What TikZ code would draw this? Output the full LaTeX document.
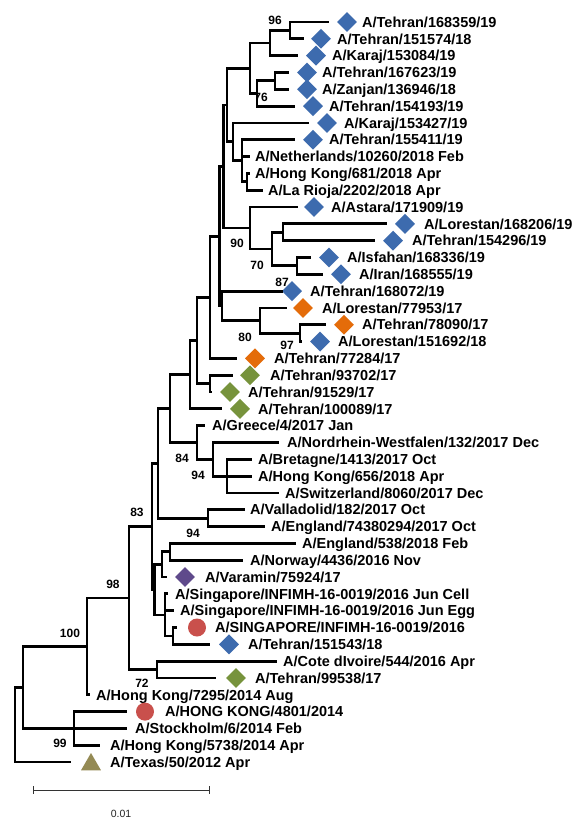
\documentclass[tikz,border=0pt]{standalone}
\usepackage{fontspec}
\setmainfont{Liberation Sans}
\usetikzlibrary{shapes.geometric,calc}
\definecolor{cblue}{HTML}{3D6BAE}
\definecolor{corange}{HTML}{E46C0A}
\definecolor{cgreen}{HTML}{77933C}
\definecolor{cpurple}{HTML}{5F4A8B}
\definecolor{cred}{HTML}{C9504C}
\definecolor{colive}{HTML}{948A54}
\newcommand\leaf[4]{%
  \coordinate (L#1) at (#2,{22+(#1-1)*16.82});
  \node[lab] (T#1) at (#3,{22+(#1-1)*16.82}) {#4};}
\newcommand\mk[3]{\node[#2] (M#1) at (#3,{22+(#1-1)*16.82}) {};}
\newcommand\inode[4]{%
  \path let \p1=($(#3)!0.5!(#4)$) in (#2pt,\y1) coordinate (#1);}
\begin{document}
\begin{tikzpicture}[x=1pt,y=-1pt,
  br/.style={line width=2.8pt, line join=miter},
  lab/.style={anchor=west, inner sep=0pt, font=\fontsize{14.5}{15}\selectfont\bfseries, text height=10.4pt, text depth=0pt},
  bs/.style={inner sep=0pt, font=\fontsize{12}{12}\selectfont\bfseries, text height=8.6pt, text depth=0pt},
  bd/.style={diamond, minimum size=20pt, inner sep=0pt, fill=cblue},
  od/.style={diamond, minimum size=20pt, inner sep=0pt, fill=corange},
  gd/.style={diamond, minimum size=20pt, inner sep=0pt, fill=cgreen},
  pd/.style={diamond, minimum size=20pt, inner sep=0pt, fill=cpurple},
  rc/.style={circle, minimum size=18pt, inner sep=0pt, fill=cred},
  tri/.style={regular polygon, regular polygon sides=3, minimum size=23pt, inner sep=0pt, fill=colive},
  sb/.style={line width=0.9pt, draw=black!80}]
\fill[white] (0,0) rectangle (573,819);
\useasboundingbox (0,0) rectangle (573,819);
% leaves
\leaf{1}{329}{362}{A/Tehran/168359/19} \mk{1}{bd}{347}
\leaf{2}{304}{337}{A/Tehran/151574/18} \mk{2}{bd}{321}
\leaf{3}{298}{332}{A/Karaj/153084/19} \mk{3}{bd}{316}
\leaf{4}{289}{322}{A/Tehran/167623/19} \mk{4}{bd}{307}
\leaf{5}{289}{322}{A/Zanjan/136946/18} \mk{5}{bd}{307}
\leaf{6}{295}{329}{A/Tehran/154193/19} \mk{6}{bd}{313}
\leaf{7}{309}{344}{A/Karaj/153427/19} \mk{7}{bd}{327}
\leaf{8}{295}{329}{A/Tehran/155411/19} \mk{8}{bd}{313}
\leaf{9}{250}{255}{A/Netherlands/10260/2018 Feb}
\leaf{10}{250}{255}{A/Hong Kong/681/2018 Apr}
\leaf{11}{263}{268}{A/La Rioja/2202/2018 Apr}
\leaf{12}{298}{331}{A/Astara/171909/19} \mk{12}{bd}{314}
\leaf{13}{387}{424}{A/Lorestan/168206/19} \mk{13}{bd}{405}
\leaf{14}{375}{412}{A/Tehran/154296/19} \mk{14}{bd}{393}
\leaf{15}{311}{347}{A/Isfahan/168336/19} \mk{15}{bd}{329}
\leaf{16}{323}{359}{A/Iran/168555/19} \mk{16}{bd}{341}
\leaf{17}{283}{310}{A/Tehran/168072/19} \mk{17}{bd}{292}
\leaf{18}{287}{322}{A/Lorestan/77953/17} \mk{18}{od}{303}
\leaf{19}{326}{362}{A/Tehran/78090/17} \mk{19}{od}{344}
\leaf{20}{302}{338}{A/Lorestan/151692/18} \mk{20}{bd}{320}
\leaf{21}{237}{274}{A/Tehran/77284/17} \mk{21}{od}{255}
\leaf{22}{233}{270}{A/Tehran/93702/17} \mk{22}{gd}{250}
\leaf{23}{212}{248}{A/Tehran/91529/17} \mk{23}{gd}{230}
\leaf{24}{222}{258}{A/Tehran/100089/17} \mk{24}{gd}{240}
\leaf{25}{205}{212}{A/Greece/4/2017 Jan}
\leaf{26}{279}{287}{A/Nordrhein-Westfalen/132/2017 Dec}
\leaf{27}{252}{258}{A/Bretagne/1413/2017 Oct}
\leaf{28}{252}{258}{A/Hong Kong/656/2018 Apr}
\leaf{29}{279}{285}{A/Switzerland/8060/2017 Dec}
\leaf{30}{245}{250}{A/Valladolid/182/2017 Oct}
\leaf{31}{265}{271}{A/England/74380294/2017 Oct}
\leaf{32}{296}{302}{A/England/538/2018 Feb}
\leaf{33}{243}{250}{A/Norway/4436/2016 Nov}
\leaf{34}{167}{205}{A/Varamin/75924/17} \mk{34}{pd}{185}
\leaf{35}{168}{175}{A/Singapore/INFIMH-16-0019/2016 Jun Cell}
\leaf{36}{174}{180}{A/Singapore/INFIMH-16-0019/2016 Jun Egg}
\leaf{37}{177}{215}{A/SINGAPORE/INFIMH-16-0019/2016} \mk{37}{rc}{197}
\leaf{38}{210}{248}{A/Tehran/151543/18} \mk{38}{bd}{229}
\leaf{39}{277}{283}{A/Cote dIvoire/544/2016 Apr}
\leaf{40}{216}{255}{A/Tehran/99538/17} \mk{40}{gd}{236}
\leaf{41}{90}{96}{A/Hong Kong/7295/2014 Aug}
\leaf{42}{127}{165}{A/HONG KONG/4801/2014} \mk{42}{rc}{145}
\leaf{43}{127}{135}{A/Stockholm/6/2014 Feb}
\leaf{44}{100}{110}{A/Hong Kong/5738/2014 Apr}
\leaf{45}{71}{110}{A/Texas/50/2012 Apr}
\node[tri] (M45) at (91,764.5) {};
% internal nodes
\inode{N96}{290}{L1}{L2}
\inode{Na}{270}{N96}{L3}
\inode{N76}{275}{L4}{L5}
\inode{Nc}{257}{N76}{L6}
\inode{Nb}{250}{Na}{Nc}
\inode{Ng}{247}{L10}{L11}
\inode{Nf}{242}{L8}{Ng}
\inode{Ne}{233}{L7}{Nf}
\inode{Nd}{227}{Nb}{Ne}
\inode{NR}{283}{L13}{L14}
\inode{NQ}{297}{L15}{L16}
\inode{NSa}{272}{NR}{NQ}
\inode{N90}{250}{L12}{NSa}
\inode{Ta}{223.5}{Nd}{N90}
\inode{N97}{300}{L19}{L20}
\inode{N80}{260}{L18}{N97}
\inode{Tb}{222}{L17}{N80}
\inode{T1}{219.5}{Ta}{Tb}
\inode{NU}{210}{T1}{L21}
\inode{N5}{210}{L22}{L23}
\inode{NV}{197}{NU}{N5}
\inode{NW}{190}{NV}{L24}
\inode{N3}{227}{L27}{L29}
\inode{N94a}{213}{L26}{N3}
\inode{N84}{197}{L25}{N94a}
\inode{NZ}{170}{NW}{N84}
\inode{N94b}{208}{L30}{L31}
\inode{NY}{158}{NZ}{N94b}
\inode{NK}{170}{L32}{L33}
\inode{NM}{162}{NK}{L34}
\inode{NS2}{173}{L37}{L38}
\inode{NS1}{165}{L35}{NS2}
\inode{NL}{154.5}{NM}{NS1}
\inode{N83}{152}{NY}{NL}
\inode{N72}{157}{L39}{L40}
\inode{N98}{129}{N83}{N72}
\inode{N100}{87}{N98}{L41}
\inode{N99}{74}{L42}{L44}
\inode{A1}{23}{N100}{N99}
\inode{R0}{15}{A1}{L45}
% branches
\foreach \p/\c in {R0/A1,R0/L45,A1/N100,A1/N99,N99/L42,N99/L43,N99/L44,
  N100/N98,N100/L41,N98/N83,N98/N72,N72/L39,N72/L40,N83/NY,N83/NL,
  NL/NM,NL/NS1,NM/NK,NM/L34,NK/L32,NK/L33,NS1/L35,NS1/L36,NS1/NS2,
  NS2/L37,NS2/L38,NY/NZ,NY/N94b,N94b/L30,N94b/L31,NZ/NW,NZ/N84,
  N84/L25,N84/N94a,N94a/L26,N94a/N3,N3/L27,N3/L28,N3/L29,NW/NV,NW/L24,
  NV/NU,NV/N5,N5/L22,N5/L23,NU/T1,NU/L21,T1/Ta,T1/Tb,Tb/L17,Tb/N80,
  N80/L18,N80/N97,N97/L19,N97/L20,Ta/Nd,Ta/N90,N90/L12,N90/NSa,
  NSa/NR,NSa/NQ,NR/L13,NR/L14,NQ/L15,NQ/L16,Nd/Nb,Nd/Ne,Nb/Na,Nb/Nc,
  Na/N96,Na/L3,N96/L1,N96/L2,Nc/N76,Nc/L6,N76/L4,N76/L5,Ne/L7,Ne/Nf,
  Nf/L8,Nf/L9,Nf/Ng,Ng/L10,Ng/L11}
  \draw[br] (\p) |- (\c);
% bootstrap values
\node[bs] (b96) at (275,20) {96};
\node[bs] (b76) at (261,97) {76};
\node[bs] (b90) at (237,243) {90};
\node[bs] (b70) at (257,265) {70};
\node[bs] (b87) at (282,282) {87};
\node[bs] (b80) at (245,337) {80};
\node[bs] (b97) at (287,345) {97};
\node[bs] (b84) at (182,458) {84};
\node[bs] (b94a) at (198,475) {94};
\node[bs] (b94b) at (193,533) {94};
\node[bs] (b83) at (137,512) {83};
\node[bs] (b98) at (113,584) {98};
\node[bs] (b100) at (70,633) {100};
\node[bs] (b72) at (142,683) {72};
\node[bs] (b99) at (60,743) {99};
% scale bar
\coordinate (s1) at (33,790);
\coordinate (s2) at (209,790);
\draw[sb] (s1) -- (s2);
\draw[sb] ($(s1)+(0,-4)$) -- ($(s1)+(0,4)$);
\draw[sb] ($(s2)+(0,-4)$) -- ($(s2)+(0,4)$);
\node[inner sep=0pt, font=\fontsize{10.5}{11}\selectfont, text=black!85] (sl) at (121,814) {0.01};
\end{tikzpicture}
\end{document}
